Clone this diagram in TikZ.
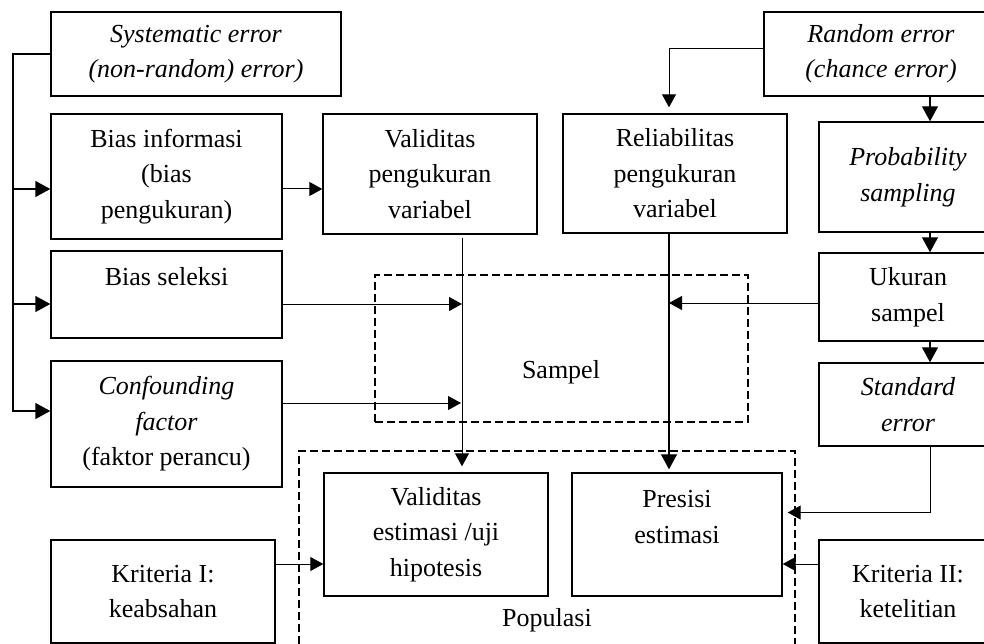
\documentclass[tikz,border=0pt]{standalone}
\usepackage{fontspec}
\setmainfont{Liberation Serif}
\usetikzlibrary{arrows.meta,positioning}

\begin{document}
\begin{tikzpicture}
  [x=1pt,y=-1pt,on grid,>={Triangle[length=13pt,width=14pt]},
  every node/.style={font=\fontsize{26}{35.5}\selectfont},
  box/.style={draw,line width=1.4pt,inner sep=0pt,align=center},
  it box/.style={box,font=\fontsize{26}{35.5}\selectfont\itshape},
  area/.style={draw,line width=1.3pt,dash pattern=on 8pt off 4pt,inner sep=0pt},
  link/.style={line width=1pt},
  col link/.style={line width=1.2pt,>={Triangle[length=15pt,width=16pt]}},
  bus line/.style={line width=1.4pt,>={Triangle[length=15pt,width=16pt]}}]
  \useasboundingbox (0,0) rectangle (984,644);
  \node[area,minimum width=373pt,minimum height=147pt] (sampel) at (561.5,348.5) {};
  \node (sampel label) at (561,372) {Sampel};
  \node[area,minimum width=496pt,minimum height=215pt] (populasi) at (547,558.5) {};
  \node (populasi label) at (547,620) {Populasi};
  \node[it box,minimum width=290pt,minimum height=84pt] (systematic) at (196,54)
    {Systematic error\\(non-random) error)};
  \node[box,minimum width=231pt,minimum height=125pt] (bias info) at (166.5,176.5)
    {Bias informasi\\(bias\\pengukuran)};
  \node[box,minimum width=231pt,minimum height=87pt] (bias seleksi) [below=118pt of bias info]
    {Bias seleksi\\\mbox{}};
  \node[box,minimum width=231pt,minimum height=126pt] (confounding) [below=129.5pt of bias seleksi]
    {\textit{Confounding}\\\textit{factor}\\(faktor perancu)};
  \node[box,minimum width=224pt,minimum height=103pt] (kriteria I) at (163,591.5)
    {Kriteria I:\\keabsahan};
  \node[box,minimum width=214pt,minimum height=120pt] (validitas ukur) at (430,174)
    {Validitas\\pengukuran\\variabel};
  \node[box,minimum width=224pt,minimum height=119pt] (reliabilitas) at (675,173.5)
    {Reliabilitas\\pengukuran\\variabel};
  \node[it box,minimum width=234pt,minimum height=84pt] (random) at (881,54)
    {Random error\\(chance error)};
  \node[it box,minimum width=178pt,minimum height=110pt] (probability) at (908,177)
    {Probability\\sampling};
  \node[box,minimum width=178pt,minimum height=88pt] (ukuran) [below=120pt of probability]
    {Ukuran\\sampel};
  \node[it box,minimum width=178pt,minimum height=83pt] (standard) [below=107.5pt of ukuran]
    {Standard\\error};
  \node[box,minimum width=178pt,minimum height=103pt] (kriteria II) [below=187pt of standard]
    {Kriteria II:\\ketelitian};
  \node[box,minimum width=224pt,minimum height=123pt] (validitas estimasi) at (436,534.5)
    {Validitas\\estimasi /uji\\hipotesis};
  \node[box,minimum width=210pt,minimum height=123pt] (presisi) at (677,534.5)
    {Presisi\\estimasi\\\mbox{}};
  \coordinate (bus) at (13,0);
  \coordinate (info row) at (0,189);
  \coordinate (v sel) at (462,304);
  \coordinate (v conf) at (461,403);
  \coordinate (r line) at (669,303);
  \coordinate (r col) at (930,0);
  \coordinate (k row) at (0,564);
  \draw[bus line,->] (systematic.west) -| ([yshift=13pt]confounding.west -| bus)
    -- ([yshift=13pt]confounding.west);
  \draw[bus line,->] (bus |- info row) -- (bias info.west |- info row);
  \draw[bus line,->] (bus |- v sel) -- (bias seleksi.west |- v sel);
  \draw[link,->] (bias info.east |- info row) -- (validitas ukur.west |- info row);
  \draw[link,->] (bias seleksi.east |- v sel) -- (v sel);
  \draw[link,->] (confounding.east |- v conf) -- (v conf);
  \draw[link,->,shorten <=3pt,shorten >=6pt] (validitas ukur.south -| v sel)
    -- (validitas estimasi.north -| v sel);
  \draw[link,->] ([yshift=5pt]random.west) -| ([yshift=6pt]reliabilitas.north -| r line);
  \draw[col link,->,shorten >=3pt] (reliabilitas.south -| r line) -- (presisi.north -| r line);
  \draw[link,->] (ukuran.west |- r line) -- (r line);
  \draw[col link,->] (random.south -| r col) -- (probability.north -| r col);
  \draw[col link,->] (probability.south -| r col) -- (ukuran.north -| r col);
  \draw[col link,->] (ukuran.south -| r col) -- (standard.north -| r col);
  \draw[link,->,shorten >=5pt] (standard.south -| r col) |- ([yshift=22pt]presisi.east);
  \draw[link,->] (kriteria II.west |- k row) -- (presisi.east |- k row);
  \draw[link,->] (kriteria I.east |- k row) -- (validitas estimasi.west |- k row);
\end{tikzpicture}
\end{document}
